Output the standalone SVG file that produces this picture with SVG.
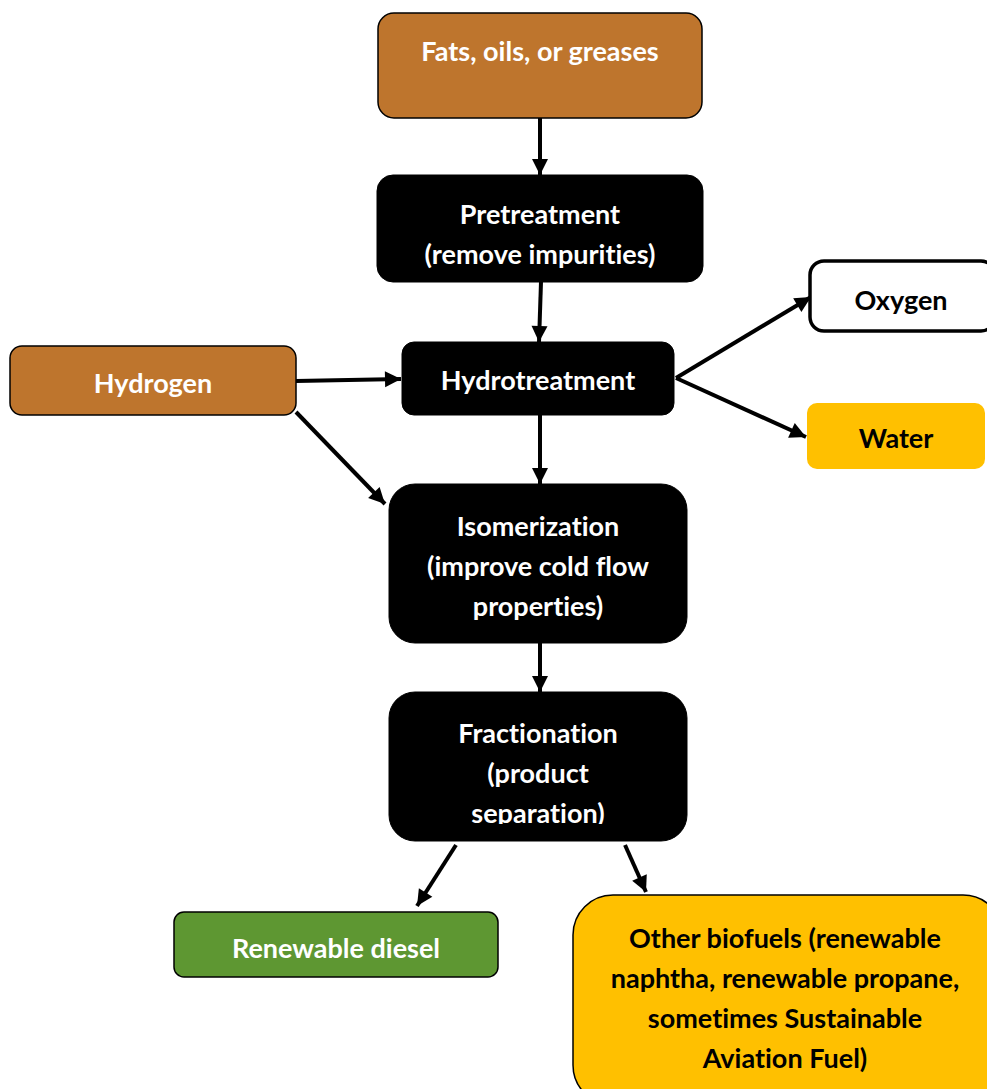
<svg xmlns="http://www.w3.org/2000/svg" width="987" height="1089" viewBox="0 0 987 1089">
<style>
.t{font-family:Lato,"Open Sans","Liberation Sans",sans-serif;font-weight:bold;font-size:27px;text-anchor:middle;font-variant-ligatures:none}
.w{fill:#ffffff}
.k{fill:#000000}
.brown{fill:#BE752D;stroke:#000;stroke-width:1.5}
.blk{fill:#000;stroke:#000;stroke-width:1}
.conn line{stroke:#000;stroke-width:4;marker-end:url(#ah)}
</style>
<defs>
<marker id="ah" markerUnits="userSpaceOnUse" markerWidth="20" markerHeight="20" viewBox="0 0 20 20" refX="18" refY="10" orient="auto">
<path d="M2,2 L18,10 L2,18 Z" fill="#000"/>
</marker>
<clipPath id="fc"><rect x="380" y="690" width="320" height="134"/></clipPath>
</defs>
<rect width="987" height="1089" fill="#fff"/>
<g class="conn">
<line x1="540" y1="118" x2="540" y2="175"/>
<line x1="541" y1="282" x2="539" y2="342"/>
<line x1="296" y1="381" x2="401" y2="379"/>
<line x1="296" y1="412" x2="385" y2="504"/>
<line x1="676" y1="378" x2="811" y2="297"/>
<line x1="676" y1="378" x2="806" y2="437"/>
<line x1="540" y1="415" x2="540" y2="484"/>
<line x1="540" y1="643" x2="540" y2="692"/>
<line x1="456" y1="845" x2="417" y2="906"/>
<line x1="625" y1="845" x2="646" y2="892"/>
</g>
<g id="fats">
<rect class="brown" x="378" y="13" width="324" height="105" rx="16"/>
<text class="t w" x="540" y="61">Fats, oils, or greases</text>
</g>
<g id="pretreatment">
<rect class="blk" x="377" y="175" width="326" height="107" rx="16"/>
<text class="t w" x="540" y="224">Pretreatment</text>
<text class="t w" x="540" y="264">(remove impurities)</text>
</g>
<g id="hydrogen">
<rect class="brown" x="10" y="346" width="286" height="69" rx="12"/>
<text class="t w" x="153" y="393">Hydrogen</text>
</g>
<g id="hydrotreatment">
<rect class="blk" x="402" y="342" width="272" height="73" rx="12"/>
<text class="t w" x="538" y="390">Hydrotreatment</text>
</g>
<g id="oxygen">
<rect x="810" y="261" width="185" height="70" rx="14" fill="#fff" stroke="#000" stroke-width="3.5"/>
<text class="t k" x="901" y="310">Oxygen</text>
</g>
<g id="water">
<rect x="807" y="403" width="178" height="66" rx="10" fill="#FFC000"/>
<text class="t k" x="896" y="448">Water</text>
</g>
<g id="isomerization">
<rect class="blk" x="389" y="484" width="298" height="159" rx="26"/>
<text class="t w" x="538" y="536">Isomerization</text>
<text class="t w" x="538" y="576">(improve cold flow</text>
<text class="t w" x="538" y="616">properties)</text>
</g>
<g id="fractionation">
<rect class="blk" x="389" y="692" width="298" height="149" rx="26"/>
<text class="t w" x="538" y="743">Fractionation</text>
<text class="t w" x="538" y="783">(product</text>
<text class="t w" x="538" y="823" clip-path="url(#fc)">separation)</text>
</g>
<g id="diesel">
<rect x="174" y="912" width="324" height="65" rx="10" fill="#5E9732" stroke="#000" stroke-width="1.5"/>
<text class="t w" x="336" y="958">Renewable diesel</text>
</g>
<g id="other">
<rect x="573" y="895" width="430" height="210" rx="40" fill="#FFC000" stroke="#000" stroke-width="1.5"/>
<text class="t k" x="785" y="948">Other biofuels (renewable</text>
<text class="t k" x="785" y="988">naphtha, renewable propane,</text>
<text class="t k" x="785" y="1028">sometimes Sustainable</text>
<text class="t k" x="785" y="1068">Aviation Fuel)</text>
</g>
</svg>
